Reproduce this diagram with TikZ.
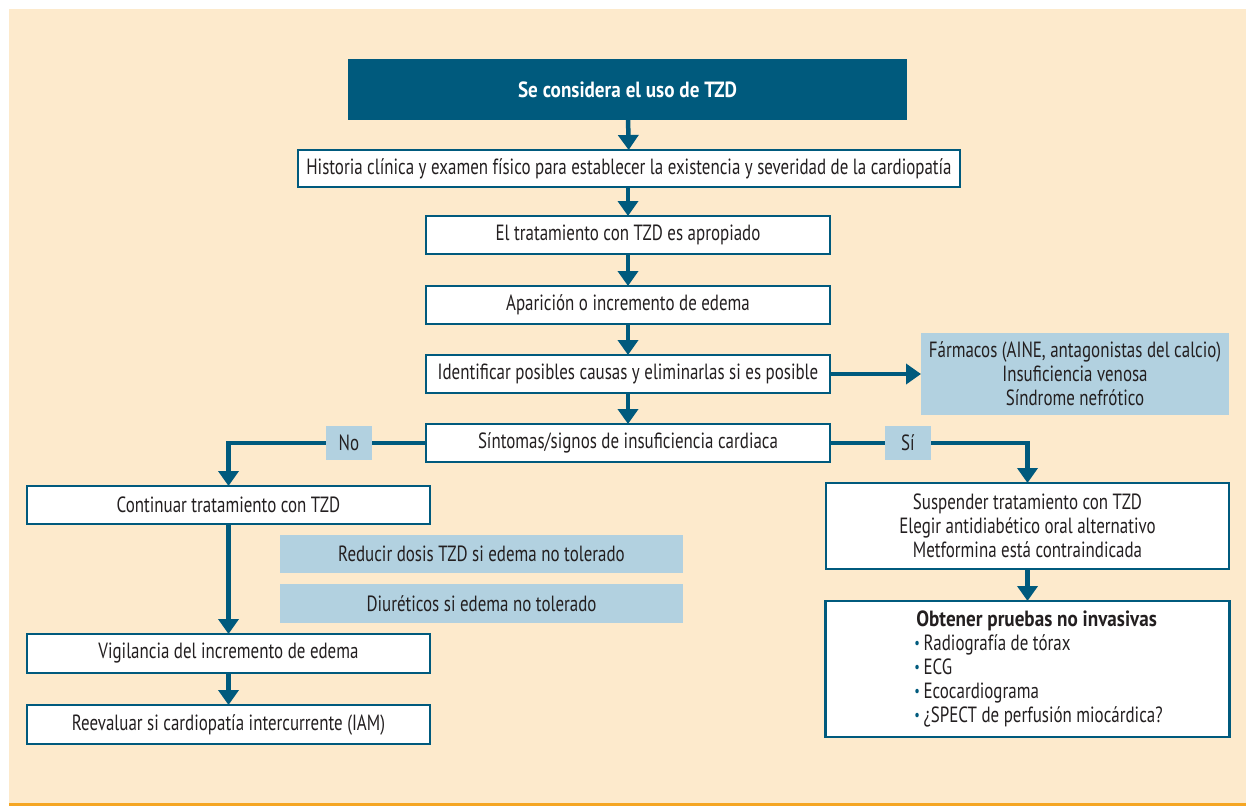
\documentclass[tikz,border=0pt]{standalone}
\usepackage{fontspec}
\setmainfont{PT Sans}[FakeStretch=0.77, BoldFeatures={FakeStretch=0.87}]
\usetikzlibrary{arrows.meta}
\definecolor{dteal}{HTML}{005A7D}
\definecolor{bgc}{HTML}{FDEACC}
\definecolor{lblue}{HTML}{B2D1E0}
\definecolor{orng}{HTML}{F5A623}
\definecolor{txt}{HTML}{231F20}
\tikzset{
  base/.style={inner sep=0pt, outer sep=0pt, align=center, text=txt,
    font=\fontsize{22}{24}\selectfont},
  box/.style={base, draw=dteal, line width=2.2pt, fill=white},
  headbox/.style={base, fill=dteal, text=white, font=\fontsize{22}{24}\selectfont\bfseries},
  infobox/.style={base, fill=lblue},
  lbl/.style={base, fill=lblue, minimum width=46pt, minimum height=34pt},
  conn/.style={draw=dteal, line width=4.5pt, -{Triangle[width=20pt,length=15pt]}},
}
\newcommand{\bul}{\hspace*{22pt}{\color{dteal}\fontsize{16}{16}\selectfont\raisebox{2pt}{•}}\,}
\begin{document}
\begin{tikzpicture}[x=1pt,y=-1pt]
\useasboundingbox (0,0) rectangle (1246,806);
\fill[bgc] (9,9) rectangle (1246,806);
\fill[orng] (9,803) rectangle (1246,806);

\node[headbox, minimum width=559pt, minimum height=61pt] (top) at (627.5,89.5) {Se considera el uso de TZD};
\node[box, minimum width=662pt, minimum height=37pt] (h) at (629,168.5) {Historia clínica y examen físico para establecer la existencia y severidad de la cardiopatía};
\node[box, minimum width=404pt, minimum height=38pt] (t) at (628,235) {El tratamiento con TZD es apropiado};
\node[box, minimum width=404pt, minimum height=38pt] (a) at (628,305) {Aparición o incremento de edema};
\node[box, minimum width=404pt, minimum height=38pt] (i) at (628,374) {Identificar posibles causas y eliminarlas si es posible};
\node[box, minimum width=404pt, minimum height=38pt] (s) at (628,443) {Síntomas/signos de insuficiencia cardiaca};
\node[infobox, minimum width=308pt, minimum height=82pt] (causes) at (1075,374) {Fármacos (AINE, antagonistas del calcio)\\Insuficiencia venosa\\Síndrome nefrótico};
\node[box, minimum width=403pt, minimum height=38pt] (c) at (228.5,505) {Continuar tratamiento con TZD};
\node[infobox, minimum width=403pt, minimum height=38pt] (r1) at (481.5,554) {Reducir dosis TZD si edema no tolerado};
\node[infobox, minimum width=403pt, minimum height=39pt] (r2) at (481.5,603.5) {Diuréticos si edema no tolerado};
\node[box, minimum width=403pt, minimum height=39pt] (v) at (228.5,653.5) {Vigilancia del incremento de edema};
\node[box, minimum width=403pt, minimum height=39pt] (re) at (228.5,724.5) {Reevaluar si cardiopatía intercurrente (IAM)};
\node[box, minimum width=403pt, minimum height=86pt] (sus) at (1027.5,526) {Suspender tratamiento con TZD\\Elegir antidiabético oral alternativo\\Metformina está contraindicada};
\node[box, minimum width=404pt, minimum height=136pt, align=left] (obt) at (1027.5,669) {\hspace*{24pt}{\bfseries Obtener pruebas no invasivas}\\\bul Radiografía de tórax\\\bul ECG\\\bul Ecocardiograma\\\bul ¿SPECT de perfusión miocárdica?};

\draw[conn] (top) -- (h);
\draw[conn] (h.south -| t.north) -- (t);
\draw[conn] (t) -- (a);
\draw[conn] (a) -- (i);
\draw[conn] (i) -- (s);
\draw[conn] (i) -- (causes);
\draw[conn] (s.west) -| node[lbl, pos=0.195] (no) {No} (c.north);
\draw[conn] (s.east) -| node[lbl, pos=0.197] (si) {Sí} (sus.north);
\draw[conn] (c) -- (v);
\draw[conn] (v) -- (re);
\draw[conn] (sus) -- (obt);
\end{tikzpicture}
\end{document}
